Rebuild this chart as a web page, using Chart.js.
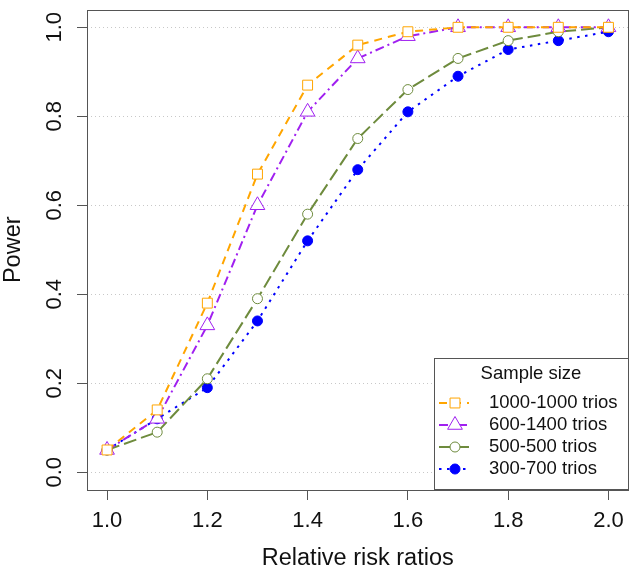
<!DOCTYPE html>
<html><head><meta charset="utf-8">
<script src="https://cdn.jsdelivr.net/npm/chart.js@4/dist/chart.umd.min.js"></script>
<style>html,body{margin:0;padding:0;background:#fff}#wrap{width:638px;height:572px;position:relative}</style>
</head><body><div id="wrap"><canvas id="c"></canvas></div>
<script>
// ---- data ----
const riskRatios = [1.0, 1.1, 1.2, 1.3, 1.4, 1.5, 1.6, 1.7, 1.8, 1.9, 2.0];
const xTickValues = [1.0, 1.2, 1.4, 1.6, 1.8, 2.0];
const yTickValues = [0.0, 0.2, 0.4, 0.6, 0.8, 1.0];
const seriesLabels = ['1000-1000 trios', '600-1400 trios', '500-500 trios', '300-700 trios'];
const power1000_1000 = [0.05, 0.14, 0.38, 0.67, 0.87, 0.96, 0.99, 1.00, 1.00, 1.00, 1.00];
const power600_1400  = [0.05, 0.12, 0.33, 0.60, 0.81, 0.93, 0.98, 1.00, 1.00, 1.00, 1.00];
const power500_500   = [0.05, 0.09, 0.21, 0.39, 0.58, 0.75, 0.86, 0.93, 0.97, 0.99, 1.00];
const power300_700   = [0.05, 0.12, 0.19, 0.34, 0.52, 0.68, 0.81, 0.89, 0.95, 0.97, 0.99];
const legendTitle = 'Sample size';
const xAxisTitle = 'Relative risk ratios';
const yAxisTitle = 'Power';

const FONT = '"Liberation Sans", Arial, sans-serif';
const seriesValues = [power1000_1000, power600_1400, power500_500, power300_700];
const styles = [
  {color:'#FFA500', dash:[8,6], point:'rect', r:7, fill:'#ffffff'},
  {color:'#A020F0', dash:[9,4,2,4], point:'triangle', r:8.5, fill:'#ffffff'},
  {color:'#6E8B3D', dash:[13,5], point:'circle', r:5, fill:'#ffffff'},
  {color:'#0000FF', dash:[2.5,5.5], point:'circle', r:5, fill:'#0000FF'}
];

const datasets = seriesValues.map((vals, i) => ({
  label: seriesLabels[i],
  data: vals.map((v, j) => ({x: riskRatios[j], y: v})),
  borderColor: styles[i].color,
  borderWidth: 2,
  borderDash: styles[i].dash,
  borderCapStyle: 'butt',
  tension: 0,
  pointStyle: styles[i].point,
  pointRadius: styles[i].r,
  pointBorderWidth: 1,
  pointBorderColor: styles[i].color,
  pointBackgroundColor: styles[i].fill
}));

const framePlugin = {
  id: 'frameAndLegend',
  afterDatasetsDraw(chart) {
    const {ctx, chartArea: a} = chart;
    ctx.save();
    // plot box
    ctx.strokeStyle = '#555';
    ctx.lineWidth = 1;
    ctx.setLineDash([]);
    ctx.strokeRect(Math.round(a.left) + 0.5, Math.round(a.top) + 0.5,
                   Math.round(a.right - a.left) - 1, Math.round(a.bottom - a.top) - 1);
    // legend box
    const lw = 195, lh = 132;
    const lx = Math.round(a.right) - lw, ly = Math.round(a.bottom) - lh;
    ctx.fillStyle = '#fff';
    ctx.fillRect(lx, ly, lw, lh);
    ctx.strokeRect(lx + 0.5, ly + 0.5, lw - 1, lh - 1);
    ctx.fillStyle = '#111';
    ctx.font = '18.5px ' + FONT;
    ctx.textBaseline = 'middle';
    ctx.textAlign = 'center';
    ctx.fillText(legendTitle, lx + 97, ly + 16);
    ctx.textAlign = 'left';
    seriesLabels.forEach((lab, i) => {
      const y = ly + 45 + i * 22;
      const st = styles[i];
      ctx.strokeStyle = st.color;
      ctx.lineWidth = 2;
      ctx.lineCap = 'butt';
      ctx.setLineDash(st.dash);
      ctx.beginPath();
      ctx.moveTo(lx + 5, y);
      ctx.lineTo(lx + 35, y);
      ctx.stroke();
      ctx.setLineDash([]);
      ctx.lineWidth = 1;
      ctx.fillStyle = st.fill;
      Chart.helpers.drawPoint(ctx, {pointStyle: st.point, radius: st.r, rotation: 0, borderWidth: 1}, lx + 21, y);
      ctx.fillStyle = '#111';
      ctx.fillText(lab, lx + 55, y);
    });
    ctx.restore();
  }
};

new Chart(document.getElementById('c'), {
  type: 'line',
  data: {datasets},
  plugins: [framePlugin],
  options: {
    responsive: true,
    maintainAspectRatio: false,
    animation: false,
    layout: {padding: {top: 4, right: 5, left: 0, bottom: 0}},
    plugins: {legend: {display: false}, tooltip: {enabled: false}},
    scales: {
      x: {
        type: 'linear',
        min: 0.96, max: 2.04,
        afterBuildTicks: s => { s.ticks = xTickValues.map(v => ({value: v})); },
        afterFit: s => { s.height = 82; s.paddingLeft = 0; s.paddingRight = 0; s.paddingTop = 0; s.paddingBottom = 0; },
        border: {display: false},
        grid: {drawOnChartArea: false, drawTicks: true, tickLength: 10, color: '#555', tickColor: '#555', lineWidth: 1},
        ticks: {
          autoSkip: false, maxRotation: 0, minRotation: 0, padding: 8,
          color: '#111', font: {family: FONT, size: 22},
          callback: v => Number(v).toFixed(1)
        },
        title: {display: true, text: xAxisTitle, color: '#111', font: {family: FONT, size: 23.5, lineHeight: 1.15}, padding: {top: 0, bottom: 0}}
      },
      y: {
        type: 'linear',
        min: -0.04, max: 1.04,
        afterBuildTicks: s => { s.ticks = yTickValues.map(v => ({value: v})); },
        afterFit: s => { s.width = 87; s.paddingLeft = 0; s.paddingRight = 0; s.paddingTop = 0; s.paddingBottom = 0; },
        border: {display: false, dash: [1, 3]},
        grid: {drawOnChartArea: true, drawTicks: true, tickLength: 10, color: '#c8c8c8',
               tickColor: '#555', tickBorderDash: [], lineWidth: 1, tickWidth: 1},
        ticks: {
          autoSkip: false, minRotation: 90, maxRotation: 90, crossAlign: 'center', padding: 7,
          color: '#111', font: {family: FONT, size: 22},
          callback: v => Number(v).toFixed(1)
        },
        title: {display: true, text: yAxisTitle, color: '#111', font: {family: FONT, size: 23.5, lineHeight: 1.15}, padding: {top: 0, bottom: 0}}
      }
    }
  }
});
</script>
</body></html>
